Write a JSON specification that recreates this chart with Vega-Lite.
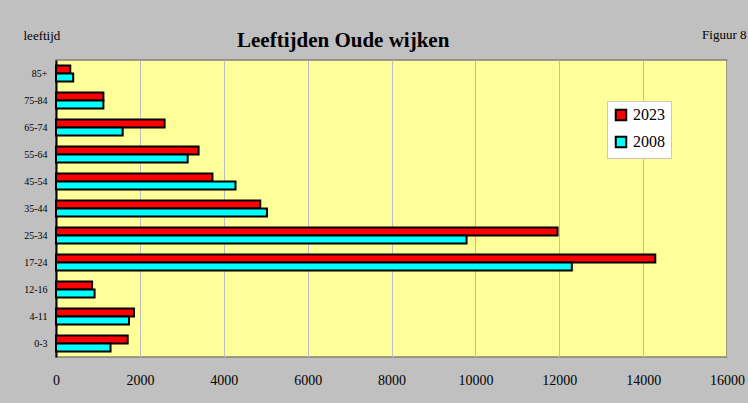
{
  "$schema": "https://vega.github.io/schema/vega-lite/v6.json",
  "autosize": {"type": "none"},
  "width": 671,
  "height": 297,
  "padding": {"left": 56, "top": 60, "right": 21, "bottom": 46},
  "background": "#C0C0C0",
  "title": {
    "text": "Leeftijden Oude wijken",
    "font": "Liberation Serif",
    "fontSize": 21,
    "fontWeight": "bold",
    "color": "#000000",
    "anchor": "start",
    "frame": "group",
    "dx": 181,
    "dy": 39,
    "baseline": "alphabetic",
    "offset": 0
  },
  "config": {
    "view": {"fill": "#FFFF99", "stroke": "#808080", "strokeWidth": 1.5},
    "font": "Liberation Serif"
  },
  "data": {
    "values": [
      {"age": "85+", "year": "2023", "value": 340},
      {"age": "85+", "year": "2008", "value": 410},
      {"age": "75-84", "year": "2023", "value": 1130},
      {"age": "75-84", "year": "2008", "value": 1130},
      {"age": "65-74", "year": "2023", "value": 2590},
      {"age": "65-74", "year": "2008", "value": 1590},
      {"age": "55-64", "year": "2023", "value": 3400},
      {"age": "55-64", "year": "2008", "value": 3140},
      {"age": "45-54", "year": "2023", "value": 3730},
      {"age": "45-54", "year": "2008", "value": 4280},
      {"age": "35-44", "year": "2023", "value": 4870},
      {"age": "35-44", "year": "2008", "value": 5030},
      {"age": "25-34", "year": "2023", "value": 11960},
      {"age": "25-34", "year": "2008", "value": 9790},
      {"age": "17-24", "year": "2023", "value": 14290},
      {"age": "17-24", "year": "2008", "value": 12300},
      {"age": "12-16", "year": "2023", "value": 860},
      {"age": "12-16", "year": "2008", "value": 920},
      {"age": "4-11", "year": "2023", "value": 1860},
      {"age": "4-11", "year": "2008", "value": 1740},
      {"age": "0-3", "year": "2023", "value": 1710},
      {"age": "0-3", "year": "2008", "value": 1300}
    ]
  },
  "mark": {"type": "bar", "stroke": "#000000", "strokeWidth": 2},
  "encoding": {
    "y": {
      "field": "age",
      "type": "nominal",
      "sort": ["85+", "75-84", "65-74", "55-64", "45-54", "35-44", "25-34", "17-24", "12-16", "4-11", "0-3"],
      "scale": {"paddingInner": 0.4, "paddingOuter": 0.2},
      "axis": {
        "title": "leeftijd",
        "titleAngle": 0,
        "titleX": -33,
        "titleY": -21,
        "titleAlign": "left",
        "titleBaseline": "alphabetic",
        "titleFont": "Liberation Serif",
        "titleFontSize": 13,
        "titleFontWeight": "normal",
        "titleColor": "#000000",
        "labelFont": "Liberation Serif",
        "labelFontSize": 10,
        "labelColor": "#000000",
        "labelPadding": 9,
        "ticks": false,
        "domainColor": "#000000",
        "domainWidth": 2,
        "grid": false
      }
    },
    "yOffset": {"field": "year", "type": "nominal", "sort": ["2023", "2008"]},
    "x": {
      "field": "value",
      "type": "quantitative",
      "scale": {"domain": [0, 16000], "nice": false},
      "axis": {
        "values": [0, 2000, 4000, 6000, 8000, 10000, 12000, 14000, 16000],
        "format": "d",
        "grid": true,
        "gridColor": "#BDBDBD",
        "gridWidth": 1,
        "domain": false,
        "ticks": false,
        "labelFont": "Liberation Serif",
        "labelFontSize": 14,
        "labelColor": "#000000",
        "labelPadding": 16,
        "labelFlush": false,
        "labelOverlap": false,
        "title": "Figuur 8",
        "titleX": 690,
        "titleY": -318.5,
        "titleAlign": "right",
        "titleBaseline": "alphabetic",
        "titleFont": "Liberation Serif",
        "titleFontSize": 13,
        "titleFontWeight": "normal",
        "titleColor": "#000000"
      }
    },
    "color": {
      "field": "year",
      "type": "nominal",
      "scale": {"domain": ["2023", "2008"], "range": ["#FF0000", "#00FFFF"]},
      "legend": {
        "title": null,
        "orient": "none",
        "legendX": 551,
        "legendY": 41,
        "fillColor": "#FFFFFF",
        "strokeColor": "#C8C8C8",
        "padding": 6,
        "symbolType": "square",
        "symbolSize": 110,
        "symbolStrokeColor": "#000000",
        "symbolStrokeWidth": 2,
        "labelFont": "Liberation Serif",
        "labelFontSize": 16,
        "labelColor": "#000000",
        "labelOffset": 4,
        "rowPadding": 7
      }
    }
  }
}
